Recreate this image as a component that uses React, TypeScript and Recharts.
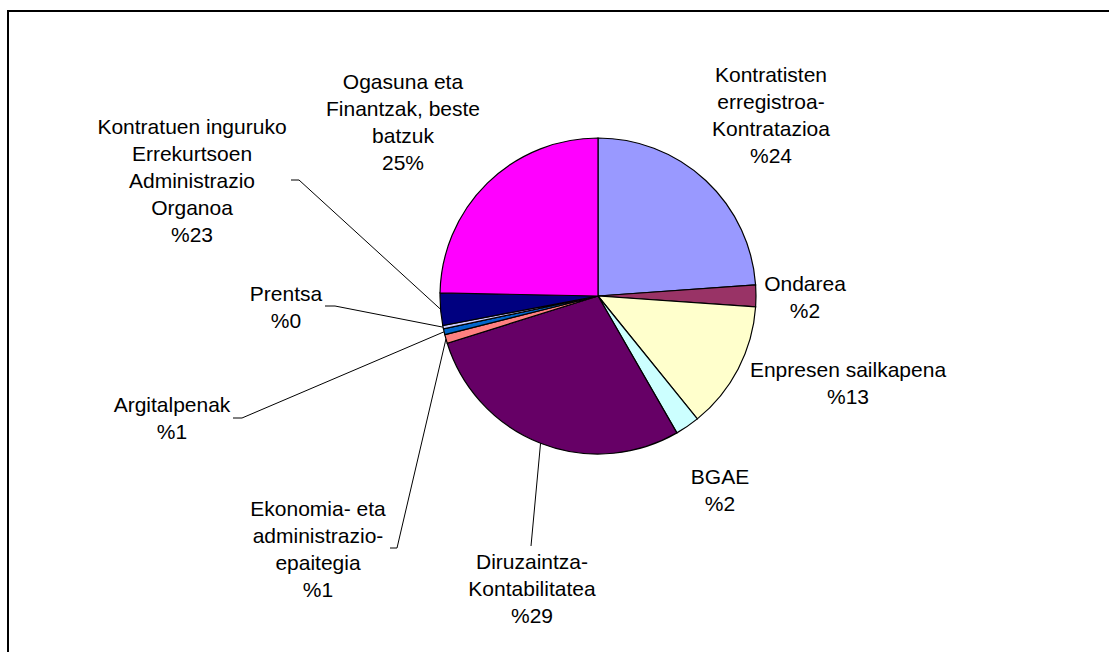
import { PieChart, Pie, Cell } from "recharts";

// slices go clockwise from 12 o'clock
const NAMES = [
  "Kontratisten erregistroa-Kontratazioa",
  "Ondarea",
  "Enpresen sailkapena",
  "BGAE",
  "Diruzaintza-Kontabilitatea",
  "Ekonomia- eta administrazio-epaitegia",
  "Argitalpenak",
  "Prentsa",
  "Kontratuen inguruko Errekurtsoen Administrazio Organoa",
  "Ogasuna eta Finantzak, beste batzuk",
];

const VALUES = [23.9, 2.2, 13.1, 2.5, 28.5, 0.9, 0.6, 0.35, 3.3, 24.7];

// label text as printed in the original
const LABEL_LINES = [
  ["Kontratisten", "erregistroa-", "Kontratazioa", "%24"],
  ["Ondarea", "%2"],
  ["Enpresen sailkapena", "%13"],
  ["BGAE", "%2"],
  ["Diruzaintza-", "Kontabilitatea", "%29"],
  ["Ekonomia- eta", "administrazio-", "epaitegia", "%1"],
  ["Argitalpenak", "%1"],
  ["Prentsa", "%0"],
  ["Kontratuen inguruko", "Errekurtsoen", "Administrazio", "Organoa", "%23"],
  ["Ogasuna eta", "Finantzak, beste", "batzuk", "25%"],
];

const COLORS = [
  "#9999FF",
  "#993366",
  "#FFFFCC",
  "#CCFFFF",
  "#660066",
  "#FF8080",
  "#0066CC",
  "#CCCCFF",
  "#000080",
  "#FF00FF",
];

// label block placement, relative to pie centre (x centre, first line y)
const LABEL_POS = [
  { dx: 173, dy: -222 },
  { dx: 207, dy: -13 },
  { dx: 250, dy: 73 },
  { dx: 122, dy: 180 },
  { dx: -66, dy: 265 },
  { dx: -280, dy: 212 },
  { dx: -426, dy: 108 },
  { dx: -312, dy: -3 },
  { dx: -406, dy: -170 },
  { dx: -195, dy: -215 },
];

// leader line elbows, relative to pie centre (null = no leader)
const LEADERS: ([number, number][] | null)[] = [
  null,
  null,
  null,
  null,
  [[-67, 250]],
  [[-208, 252], [-201, 252]],
  [[-365, 122], [-356, 122]],
  [[-273, 10], [-263, 10]],
  [[-307, -116], [-299, -116]],
  null,
];

const data = NAMES.map((name, i) => ({ name, value: VALUES[i] }));

const RAD = Math.PI / 180;
const LINE_H = 27;

function renderLabel(props: any) {
  const { cx, cy, midAngle, outerRadius } = props;
  const i = props.index ?? NAMES.indexOf(props.name);
  const pos = LABEL_POS[i];
  const lines = LABEL_LINES[i];
  const lead = LEADERS[i];
  const ex = cx + Math.cos(-midAngle * RAD) * outerRadius;
  const ey = cy + Math.sin(-midAngle * RAD) * outerRadius;
  return (
    <g key={`lbl-${i}`}>
      {lead && (
        <polyline
          points={[...lead.map(([x, y]) => `${cx + x},${cy + y}`), `${ex},${ey}`].join(" ")}
          fill="none"
          stroke="#000"
          strokeWidth={1}
        />
      )}
      {lines.map((t, k) => (
        <text
          key={k}
          x={cx + pos.dx}
          y={cy + pos.dy + k * LINE_H}
          textAnchor="middle"
          dominantBaseline="central"
          fill="#000"
          fontSize={21}
          fontFamily="'Liberation Sans', Arial, sans-serif"
        >
          {t}
        </text>
      ))}
    </g>
  );
}

export default function App() {
  return (
    <div
      style={{
        position: "fixed",
        left: 0,
        top: 0,
        width: 1109,
        height: 652,
        overflow: "hidden",
        background: "#fff",
      }}
    >
      <div
        style={{
          position: "absolute",
          left: 7,
          top: 10,
          width: 1400,
          height: 900,
          borderTop: "2px solid #000",
          borderLeft: "2px solid #000",
          boxSizing: "border-box",
        }}
      />
      <div style={{ position: "absolute", left: 0, top: 0 }}>
        <PieChart width={1109} height={652} margin={{ top: 0, right: 0, bottom: 0, left: 0 }}>
          <Pie
            data={data}
            dataKey="value"
            nameKey="name"
            cx={598}
            cy={296}
            outerRadius={158}
            startAngle={90}
            endAngle={-270}
            stroke="#000"
            strokeWidth={1.2}
            label={renderLabel}
            labelLine={false}
            isAnimationActive={false}
          >
            {data.map((d, i) => (
              <Cell key={d.name} fill={COLORS[i]} />
            ))}
          </Pie>
        </PieChart>
      </div>
    </div>
  );
}
